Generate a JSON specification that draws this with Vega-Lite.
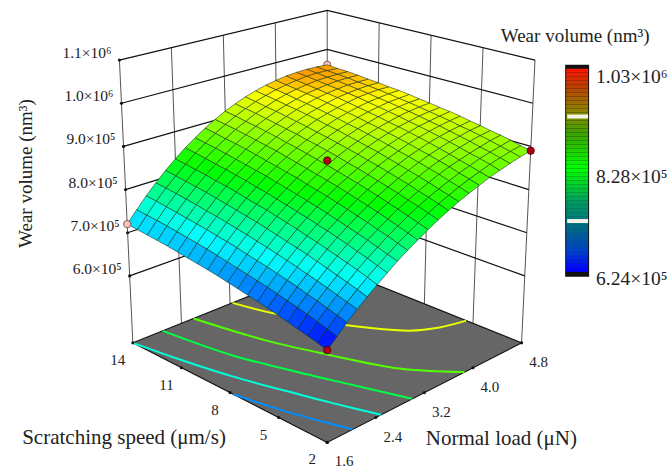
{"$schema":"https://vega.github.io/schema/vega-lite/v6.json","width":668,"height":470,"padding":0,"autosize":{"type":"fit","contains":"padding"},"background":"white","config":{"view":{"stroke":null},"text":{"font":"Liberation Serif","color":"#222222"}},
"datasets":{
"frame":[
{"g":"wallh","id":"z600","n":0,"speed":14,"load":1.6,"w":600},{"g":"wallh","id":"z600","n":1,"speed":14,"load":4.8,"w":600},{"g":"wallh","id":"z600","n":2,"speed":2,"load":4.8,"w":600},
{"g":"wallh","id":"z700","n":0,"speed":14,"load":1.6,"w":700},{"g":"wallh","id":"z700","n":1,"speed":14,"load":4.8,"w":700},{"g":"wallh","id":"z700","n":2,"speed":2,"load":4.8,"w":700},
{"g":"wallh","id":"z800","n":0,"speed":14,"load":1.6,"w":800},{"g":"wallh","id":"z800","n":1,"speed":14,"load":4.8,"w":800},{"g":"wallh","id":"z800","n":2,"speed":2,"load":4.8,"w":800},
{"g":"wallh","id":"z900","n":0,"speed":14,"load":1.6,"w":900},{"g":"wallh","id":"z900","n":1,"speed":14,"load":4.8,"w":900},{"g":"wallh","id":"z900","n":2,"speed":2,"load":4.8,"w":900},
{"g":"wallh","id":"z1000","n":0,"speed":14,"load":1.6,"w":1000},{"g":"wallh","id":"z1000","n":1,"speed":14,"load":4.8,"w":1000},{"g":"wallh","id":"z1000","n":2,"speed":2,"load":4.8,"w":1000},
{"g":"wallh","id":"z1100","n":0,"speed":14,"load":1.6,"w":1100},{"g":"wallh","id":"z1100","n":1,"speed":14,"load":4.8,"w":1100},{"g":"wallh","id":"z1100","n":2,"speed":2,"load":4.8,"w":1100},
{"g":"wallv","id":"a","n":0,"speed":14,"load":1.6,"w":445},{"g":"wallv","id":"a","n":1,"speed":14,"load":1.6,"w":1100},
{"g":"wallv","id":"b","n":0,"speed":14,"load":2.4,"w":445},{"g":"wallv","id":"b","n":1,"speed":14,"load":2.4,"w":1100},
{"g":"wallv","id":"c","n":0,"speed":14,"load":3.2,"w":445},{"g":"wallv","id":"c","n":1,"speed":14,"load":3.2,"w":1100},
{"g":"wallv","id":"d","n":0,"speed":14,"load":4.0,"w":445},{"g":"wallv","id":"d","n":1,"speed":14,"load":4.0,"w":1100},
{"g":"wallv","id":"e","n":0,"speed":14,"load":4.8,"w":445},{"g":"wallv","id":"e","n":1,"speed":14,"load":4.8,"w":1100},
{"g":"wallv","id":"f","n":0,"speed":11,"load":4.8,"w":445},{"g":"wallv","id":"f","n":1,"speed":11,"load":4.8,"w":1100},
{"g":"wallv","id":"h","n":0,"speed":8,"load":4.8,"w":445},{"g":"wallv","id":"h","n":1,"speed":8,"load":4.8,"w":1100},
{"g":"wallv","id":"k","n":0,"speed":5,"load":4.8,"w":445},{"g":"wallv","id":"k","n":1,"speed":5,"load":4.8,"w":1100},
{"g":"wallv","id":"m","n":0,"speed":2,"load":4.8,"w":445},{"g":"wallv","id":"m","n":1,"speed":2,"load":4.8,"w":1100},
{"g":"floor","id":"floor","n":0,"speed":2,"load":1.6,"w":445},{"g":"floor","id":"floor","n":1,"speed":14,"load":1.6,"w":445},{"g":"floor","id":"floor","n":2,"speed":14,"load":4.8,"w":445},{"g":"floor","id":"floor","n":3,"speed":2,"load":4.8,"w":445},
{"g":"contour","level":680,"n":0,"speed":7.8,"load":1.6,"w":445},{"g":"contour","level":680,"n":1,"speed":5.33,"load":1.75,"w":445},{"g":"contour","level":680,"n":2,"speed":2.94,"load":1.94,"w":445},{"g":"contour","level":680,"n":3,"speed":2,"load":2.02,"w":445},
{"g":"contour","level":740,"n":0,"speed":14,"load":1.6,"w":445},{"g":"contour","level":740,"n":1,"speed":11.44,"load":1.74,"w":445},{"g":"contour","level":740,"n":2,"speed":8.97,"load":1.9,"w":445},{"g":"contour","level":740,"n":3,"speed":5.82,"load":2.16,"w":445},{"g":"contour","level":740,"n":4,"speed":4.25,"load":2.29,"w":445},{"g":"contour","level":740,"n":5,"speed":2,"load":2.49,"w":445},
{"g":"contour","level":800,"n":0,"speed":14,"load":2.09,"w":445},{"g":"contour","level":800,"n":1,"speed":10.35,"load":2.27,"w":445},{"g":"contour","level":800,"n":2,"speed":7.23,"load":2.54,"w":445},{"g":"contour","level":800,"n":3,"speed":5.7,"load":2.68,"w":445},{"g":"contour","level":800,"n":4,"speed":2,"load":3.0,"w":445},
{"g":"contour","level":860,"n":0,"speed":14,"load":2.6,"w":445},{"g":"contour","level":860,"n":1,"speed":10.35,"load":2.83,"w":445},{"g":"contour","level":860,"n":2,"speed":7.58,"load":3.09,"w":445},{"g":"contour","level":860,"n":3,"speed":4.38,"load":3.42,"w":445},{"g":"contour","level":860,"n":4,"speed":2,"load":3.86,"w":445},
{"g":"contour","level":920,"n":0,"speed":14,"load":3.24,"w":445},{"g":"contour","level":920,"n":1,"speed":12,"load":3.4,"w":445},{"g":"contour","level":920,"n":2,"speed":8.96,"load":3.78,"w":445},{"g":"contour","level":920,"n":3,"speed":6.6,"load":4.18,"w":445},{"g":"contour","level":920,"n":4,"speed":5.83,"load":4.47,"w":445},{"g":"contour","level":920,"n":5,"speed":5.42,"load":4.8,"w":445},
{"g":"pinktop","speed":14,"load":1.6,"w":720},{"g":"pink","speed":14,"load":4.8,"w":960},
{"g":"red","speed":2,"load":1.6,"w":646},{"g":"red","speed":8,"load":3.2,"w":884},{"g":"red","speed":2,"load":4.8,"w":890},
{"g":"zlab","speed":14,"load":1.6,"w":600,"txt":"6.0×10⁵"},{"g":"zlab","speed":14,"load":1.6,"w":700,"txt":"7.0×10⁵"},{"g":"zlab","speed":14,"load":1.6,"w":800,"txt":"8.0×10⁵"},{"g":"zlab","speed":14,"load":1.6,"w":900,"txt":"9.0×10⁵"},{"g":"zlab","speed":14,"load":1.6,"w":1000,"txt":"1.0×10⁶"},{"g":"zlab","speed":14,"load":1.6,"w":1100,"txt":"1.1×10⁶"},
{"g":"slab","speed":14,"load":1.6,"w":445,"txt":"14"},{"g":"slab","speed":11,"load":1.6,"w":445,"txt":"11"},{"g":"slab","speed":8,"load":1.6,"w":445,"txt":"8"},{"g":"slab","speed":5,"load":1.6,"w":445,"txt":"5"},{"g":"slab","speed":2,"load":1.6,"w":445,"txt":"2"},
{"g":"llab","speed":2,"load":1.6,"w":445,"txt":"1.6"},{"g":"llab","speed":2,"load":2.4,"w":445,"txt":"2.4"},{"g":"llab","speed":2,"load":3.2,"w":445,"txt":"3.2"},{"g":"llab","speed":2,"load":4.0,"w":445,"txt":"4.0"},{"g":"llab","speed":2,"load":4.8,"w":445,"txt":"4.8"},
{"g":"stitle","speed":8,"load":1.6,"w":445,"txt":"Scratching speed (μm/s)"},{"g":"ltitle","speed":2,"load":3.2,"w":445,"txt":"Normal load (μN)"},{"g":"ztitle","speed":14,"load":1.6,"w":800,"txt":"Wear volume (nm³)"}
],
"surface":[
{"i":0,"j":0,"w":646},{"i":1,"j":0,"w":652},{"i":2,"j":0,"w":657},{"i":3,"j":0,"w":662},{"i":4,"j":0,"w":667},{"i":5,"j":0,"w":672},{"i":6,"j":0,"w":677},{"i":7,"j":0,"w":681},{"i":8,"j":0,"w":685},{"i":9,"j":0,"w":689},{"i":10,"j":0,"w":693},{"i":11,"j":0,"w":697},{"i":12,"j":0,"w":700},{"i":13,"j":0,"w":703},{"i":14,"j":0,"w":706},{"i":15,"j":0,"w":709},{"i":16,"j":0,"w":712},{"i":17,"j":0,"w":714},{"i":18,"j":0,"w":716},{"i":19,"j":0,"w":718},{"i":20,"j":0,"w":720},
{"i":0,"j":1,"w":666},{"i":1,"j":1,"w":672},{"i":2,"j":1,"w":678},{"i":3,"j":1,"w":684},{"i":4,"j":1,"w":689},{"i":5,"j":1,"w":694},{"i":6,"j":1,"w":699},{"i":7,"j":1,"w":704},{"i":8,"j":1,"w":708},{"i":9,"j":1,"w":712},{"i":10,"j":1,"w":716},{"i":11,"j":1,"w":720},{"i":12,"j":1,"w":724},{"i":13,"j":1,"w":728},{"i":14,"j":1,"w":731},{"i":15,"j":1,"w":734},{"i":16,"j":1,"w":737},{"i":17,"j":1,"w":740},{"i":18,"j":1,"w":742},{"i":19,"j":1,"w":744},{"i":20,"j":1,"w":746},
{"i":0,"j":2,"w":686},{"i":1,"j":2,"w":692},{"i":2,"j":2,"w":698},{"i":3,"j":2,"w":704},{"i":4,"j":2,"w":709},{"i":5,"j":2,"w":715},{"i":6,"j":2,"w":720},{"i":7,"j":2,"w":725},{"i":8,"j":2,"w":730},{"i":9,"j":2,"w":734},{"i":10,"j":2,"w":738},{"i":11,"j":2,"w":743},{"i":12,"j":2,"w":747},{"i":13,"j":2,"w":750},{"i":14,"j":2,"w":754},{"i":15,"j":2,"w":757},{"i":16,"j":2,"w":760},{"i":17,"j":2,"w":763},{"i":18,"j":2,"w":766},{"i":19,"j":2,"w":769},{"i":20,"j":2,"w":771},
{"i":0,"j":3,"w":705},{"i":1,"j":3,"w":711},{"i":2,"j":3,"w":717},{"i":3,"j":3,"w":723},{"i":4,"j":3,"w":729},{"i":5,"j":3,"w":734},{"i":6,"j":3,"w":740},{"i":7,"j":3,"w":745},{"i":8,"j":3,"w":750},{"i":9,"j":3,"w":755},{"i":10,"j":3,"w":759},{"i":11,"j":3,"w":764},{"i":12,"j":3,"w":768},{"i":13,"j":3,"w":772},{"i":14,"j":3,"w":776},{"i":15,"j":3,"w":779},{"i":16,"j":3,"w":783},{"i":17,"j":3,"w":786},{"i":18,"j":3,"w":789},{"i":19,"j":3,"w":792},{"i":20,"j":3,"w":794},
{"i":0,"j":4,"w":722},{"i":1,"j":4,"w":729},{"i":2,"j":4,"w":735},{"i":3,"j":4,"w":741},{"i":4,"j":4,"w":747},{"i":5,"j":4,"w":753},{"i":6,"j":4,"w":759},{"i":7,"j":4,"w":764},{"i":8,"j":4,"w":769},{"i":9,"j":4,"w":774},{"i":10,"j":4,"w":779},{"i":11,"j":4,"w":784},{"i":12,"j":4,"w":788},{"i":13,"j":4,"w":792},{"i":14,"j":4,"w":796},{"i":15,"j":4,"w":800},{"i":16,"j":4,"w":804},{"i":17,"j":4,"w":807},{"i":18,"j":4,"w":810},{"i":19,"j":4,"w":813},{"i":20,"j":4,"w":816},
{"i":0,"j":5,"w":739},{"i":1,"j":5,"w":746},{"i":2,"j":5,"w":753},{"i":3,"j":5,"w":759},{"i":4,"j":5,"w":765},{"i":5,"j":5,"w":771},{"i":6,"j":5,"w":777},{"i":7,"j":5,"w":782},{"i":8,"j":5,"w":788},{"i":9,"j":5,"w":793},{"i":10,"j":5,"w":798},{"i":11,"j":5,"w":803},{"i":12,"j":5,"w":807},{"i":13,"j":5,"w":811},{"i":14,"j":5,"w":816},{"i":15,"j":5,"w":820},{"i":16,"j":5,"w":823},{"i":17,"j":5,"w":827},{"i":18,"j":5,"w":830},{"i":19,"j":5,"w":833},{"i":20,"j":5,"w":836},
{"i":0,"j":6,"w":755},{"i":1,"j":6,"w":762},{"i":2,"j":6,"w":769},{"i":3,"j":6,"w":775},{"i":4,"j":6,"w":782},{"i":5,"j":6,"w":788},{"i":6,"j":6,"w":794},{"i":7,"j":6,"w":799},{"i":8,"j":6,"w":805},{"i":9,"j":6,"w":810},{"i":10,"j":6,"w":815},{"i":11,"j":6,"w":820},{"i":12,"j":6,"w":825},{"i":13,"j":6,"w":829},{"i":14,"j":6,"w":834},{"i":15,"j":6,"w":838},{"i":16,"j":6,"w":842},{"i":17,"j":6,"w":845},{"i":18,"j":6,"w":849},{"i":19,"j":6,"w":852},{"i":20,"j":6,"w":855},
{"i":0,"j":7,"w":771},{"i":1,"j":7,"w":777},{"i":2,"j":7,"w":784},{"i":3,"j":7,"w":791},{"i":4,"j":7,"w":797},{"i":5,"j":7,"w":803},{"i":6,"j":7,"w":809},{"i":7,"j":7,"w":815},{"i":8,"j":7,"w":821},{"i":9,"j":7,"w":826},{"i":10,"j":7,"w":831},{"i":11,"j":7,"w":836},{"i":12,"j":7,"w":841},{"i":13,"j":7,"w":846},{"i":14,"j":7,"w":850},{"i":15,"j":7,"w":854},{"i":16,"j":7,"w":858},{"i":17,"j":7,"w":862},{"i":18,"j":7,"w":866},{"i":19,"j":7,"w":869},{"i":20,"j":7,"w":872},
{"i":0,"j":8,"w":785},{"i":1,"j":8,"w":792},{"i":2,"j":8,"w":799},{"i":3,"j":8,"w":805},{"i":4,"j":8,"w":812},{"i":5,"j":8,"w":818},{"i":6,"j":8,"w":824},{"i":7,"j":8,"w":830},{"i":8,"j":8,"w":836},{"i":9,"j":8,"w":841},{"i":10,"j":8,"w":846},{"i":11,"j":8,"w":852},{"i":12,"j":8,"w":856},{"i":13,"j":8,"w":861},{"i":14,"j":8,"w":865},{"i":15,"j":8,"w":870},{"i":16,"j":8,"w":874},{"i":17,"j":8,"w":878},{"i":18,"j":8,"w":881},{"i":19,"j":8,"w":885},{"i":20,"j":8,"w":888},
{"i":0,"j":9,"w":798},{"i":1,"j":9,"w":805},{"i":2,"j":9,"w":812},{"i":3,"j":9,"w":819},{"i":4,"j":9,"w":826},{"i":5,"j":9,"w":832},{"i":6,"j":9,"w":838},{"i":7,"j":9,"w":844},{"i":8,"j":9,"w":850},{"i":9,"j":9,"w":855},{"i":10,"j":9,"w":860},{"i":11,"j":9,"w":865},{"i":12,"j":9,"w":870},{"i":13,"j":9,"w":875},{"i":14,"j":9,"w":880},{"i":15,"j":9,"w":884},{"i":16,"j":9,"w":888},{"i":17,"j":9,"w":892},{"i":18,"j":9,"w":896},{"i":19,"j":9,"w":899},{"i":20,"j":9,"w":902},
{"i":0,"j":10,"w":811},{"i":1,"j":10,"w":818},{"i":2,"j":10,"w":825},{"i":3,"j":10,"w":832},{"i":4,"j":10,"w":838},{"i":5,"j":10,"w":845},{"i":6,"j":10,"w":851},{"i":7,"j":10,"w":857},{"i":8,"j":10,"w":862},{"i":9,"j":10,"w":868},{"i":10,"j":10,"w":873},{"i":11,"j":10,"w":878},{"i":12,"j":10,"w":883},{"i":13,"j":10,"w":888},{"i":14,"j":10,"w":892},{"i":15,"j":10,"w":897},{"i":16,"j":10,"w":901},{"i":17,"j":10,"w":905},{"i":18,"j":10,"w":908},{"i":19,"j":10,"w":912},{"i":20,"j":10,"w":915},
{"i":0,"j":11,"w":823},{"i":1,"j":11,"w":830},{"i":2,"j":11,"w":837},{"i":3,"j":11,"w":843},{"i":4,"j":11,"w":850},{"i":5,"j":11,"w":856},{"i":6,"j":11,"w":862},{"i":7,"j":11,"w":868},{"i":8,"j":11,"w":874},{"i":9,"j":11,"w":879},{"i":10,"j":11,"w":885},{"i":11,"j":11,"w":890},{"i":12,"j":11,"w":895},{"i":13,"j":11,"w":899},{"i":14,"j":11,"w":904},{"i":15,"j":11,"w":908},{"i":16,"j":11,"w":912},{"i":17,"j":11,"w":916},{"i":18,"j":11,"w":920},{"i":19,"j":11,"w":923},{"i":20,"j":11,"w":926},
{"i":0,"j":12,"w":834},{"i":1,"j":12,"w":841},{"i":2,"j":12,"w":848},{"i":3,"j":12,"w":854},{"i":4,"j":12,"w":861},{"i":5,"j":12,"w":867},{"i":6,"j":12,"w":873},{"i":7,"j":12,"w":879},{"i":8,"j":12,"w":884},{"i":9,"j":12,"w":890},{"i":10,"j":12,"w":895},{"i":11,"j":12,"w":900},{"i":12,"j":12,"w":905},{"i":13,"j":12,"w":909},{"i":14,"j":12,"w":914},{"i":15,"j":12,"w":918},{"i":16,"j":12,"w":922},{"i":17,"j":12,"w":926},{"i":18,"j":12,"w":929},{"i":19,"j":12,"w":933},{"i":20,"j":12,"w":936},
{"i":0,"j":13,"w":844},{"i":1,"j":13,"w":851},{"i":2,"j":13,"w":857},{"i":3,"j":13,"w":864},{"i":4,"j":13,"w":870},{"i":5,"j":13,"w":876},{"i":6,"j":13,"w":882},{"i":7,"j":13,"w":888},{"i":8,"j":13,"w":894},{"i":9,"j":13,"w":899},{"i":10,"j":13,"w":904},{"i":11,"j":13,"w":909},{"i":12,"j":13,"w":914},{"i":13,"j":13,"w":918},{"i":14,"j":13,"w":923},{"i":15,"j":13,"w":927},{"i":16,"j":13,"w":931},{"i":17,"j":13,"w":934},{"i":18,"j":13,"w":938},{"i":19,"j":13,"w":941},{"i":20,"j":13,"w":944},
{"i":0,"j":14,"w":853},{"i":1,"j":14,"w":860},{"i":2,"j":14,"w":866},{"i":3,"j":14,"w":873},{"i":4,"j":14,"w":879},{"i":5,"j":14,"w":885},{"i":6,"j":14,"w":891},{"i":7,"j":14,"w":896},{"i":8,"j":14,"w":902},{"i":9,"j":14,"w":907},{"i":10,"j":14,"w":912},{"i":11,"j":14,"w":917},{"i":12,"j":14,"w":921},{"i":13,"j":14,"w":926},{"i":14,"j":14,"w":930},{"i":15,"j":14,"w":934},{"i":16,"j":14,"w":938},{"i":17,"j":14,"w":941},{"i":18,"j":14,"w":945},{"i":19,"j":14,"w":948},{"i":20,"j":14,"w":951},
{"i":0,"j":15,"w":861},{"i":1,"j":15,"w":868},{"i":2,"j":15,"w":874},{"i":3,"j":15,"w":881},{"i":4,"j":15,"w":887},{"i":5,"j":15,"w":893},{"i":6,"j":15,"w":898},{"i":7,"j":15,"w":904},{"i":8,"j":15,"w":909},{"i":9,"j":15,"w":914},{"i":10,"j":15,"w":919},{"i":11,"j":15,"w":923},{"i":12,"j":15,"w":928},{"i":13,"j":15,"w":932},{"i":14,"j":15,"w":936},{"i":15,"j":15,"w":940},{"i":16,"j":15,"w":944},{"i":17,"j":15,"w":947},{"i":18,"j":15,"w":950},{"i":19,"j":15,"w":953},{"i":20,"j":15,"w":956},
{"i":0,"j":16,"w":869},{"i":1,"j":16,"w":875},{"i":2,"j":16,"w":881},{"i":3,"j":16,"w":887},{"i":4,"j":16,"w":893},{"i":5,"j":16,"w":899},{"i":6,"j":16,"w":905},{"i":7,"j":16,"w":910},{"i":8,"j":16,"w":915},{"i":9,"j":16,"w":920},{"i":10,"j":16,"w":924},{"i":11,"j":16,"w":929},{"i":12,"j":16,"w":933},{"i":13,"j":16,"w":937},{"i":14,"j":16,"w":941},{"i":15,"j":16,"w":945},{"i":16,"j":16,"w":948},{"i":17,"j":16,"w":951},{"i":18,"j":16,"w":954},{"i":19,"j":16,"w":957},{"i":20,"j":16,"w":960},
{"i":0,"j":17,"w":875},{"i":1,"j":17,"w":882},{"i":2,"j":17,"w":888},{"i":3,"j":17,"w":893},{"i":4,"j":17,"w":899},{"i":5,"j":17,"w":905},{"i":6,"j":17,"w":910},{"i":7,"j":17,"w":915},{"i":8,"j":17,"w":920},{"i":9,"j":17,"w":924},{"i":10,"j":17,"w":929},{"i":11,"j":17,"w":933},{"i":12,"j":17,"w":937},{"i":13,"j":17,"w":941},{"i":14,"j":17,"w":945},{"i":15,"j":17,"w":948},{"i":16,"j":17,"w":951},{"i":17,"j":17,"w":954},{"i":18,"j":17,"w":957},{"i":19,"j":17,"w":960},{"i":20,"j":17,"w":962},
{"i":0,"j":18,"w":881},{"i":1,"j":18,"w":887},{"i":2,"j":18,"w":893},{"i":3,"j":18,"w":898},{"i":4,"j":18,"w":904},{"i":5,"j":18,"w":909},{"i":6,"j":18,"w":914},{"i":7,"j":18,"w":919},{"i":8,"j":18,"w":923},{"i":9,"j":18,"w":928},{"i":10,"j":18,"w":932},{"i":11,"j":18,"w":936},{"i":12,"j":18,"w":940},{"i":13,"j":18,"w":943},{"i":14,"j":18,"w":947},{"i":15,"j":18,"w":950},{"i":16,"j":18,"w":953},{"i":17,"j":18,"w":956},{"i":18,"j":18,"w":958},{"i":19,"j":18,"w":961},{"i":20,"j":18,"w":963},
{"i":0,"j":19,"w":886},{"i":1,"j":19,"w":892},{"i":2,"j":19,"w":897},{"i":3,"j":19,"w":903},{"i":4,"j":19,"w":908},{"i":5,"j":19,"w":913},{"i":6,"j":19,"w":917},{"i":7,"j":19,"w":922},{"i":8,"j":19,"w":926},{"i":9,"j":19,"w":930},{"i":10,"j":19,"w":934},{"i":11,"j":19,"w":938},{"i":12,"j":19,"w":941},{"i":13,"j":19,"w":945},{"i":14,"j":19,"w":948},{"i":15,"j":19,"w":951},{"i":16,"j":19,"w":953},{"i":17,"j":19,"w":956},{"i":18,"j":19,"w":958},{"i":19,"j":19,"w":960},{"i":20,"j":19,"w":962},
{"i":0,"j":20,"w":890},{"i":1,"j":20,"w":895},{"i":2,"j":20,"w":901},{"i":3,"j":20,"w":906},{"i":4,"j":20,"w":910},{"i":5,"j":20,"w":915},{"i":6,"j":20,"w":919},{"i":7,"j":20,"w":924},{"i":8,"j":20,"w":928},{"i":9,"j":20,"w":931},{"i":10,"j":20,"w":935},{"i":11,"j":20,"w":938},{"i":12,"j":20,"w":942},{"i":13,"j":20,"w":945},{"i":14,"j":20,"w":947},{"i":15,"j":20,"w":950},{"i":16,"j":20,"w":952},{"i":17,"j":20,"w":955},{"i":18,"j":20,"w":957},{"i":19,"j":20,"w":958},{"i":20,"j":20,"w":960}
],
"bar":[{"w":624},{"w":632},{"w":640},{"w":648},{"w":656},{"w":664},{"w":672},{"w":680},{"w":688},{"w":696},{"w":704},{"w":712},{"w":720},{"w":728},{"w":736},{"w":744},{"w":752},{"w":760},{"w":768},{"w":776},{"w":784},{"w":792},{"w":800},{"w":808},{"w":816},{"w":824},{"w":832},{"w":840},{"w":848},{"w":856},{"w":864},{"w":872},{"w":880},{"w":888},{"w":896},{"w":904},{"w":912},{"w":920},{"w":928},{"w":936},{"w":944},{"w":952},{"w":960},{"w":968},{"w":976},{"w":984},{"w":992},{"w":1000},{"w":1008},{"w":1016},{"w":1024}],
"barmarks":[{"k":"frame","w":614,"w2":1040},{"k":"band","w":722,"w2":730},{"k":"band","w":932,"w2":940}],
"barlabels":[{"w":1030,"txt":"1.03×10⁶"},{"w":828,"txt":"8.28×10⁵"},{"w":624,"txt":"6.24×10⁵"}]
},
"encoding":{"x":{"field":"px","type":"quantitative","axis":null,"scale":{"domain":[0,668],"nice":false,"zero":false}},"y":{"field":"py","type":"quantitative","axis":null,"scale":{"domain":[470,0],"nice":false,"zero":false}}},
"layer":[
{"data":{"name":"frame"},"transform":[{"calculate":"(datum.speed-2)/12","as":"u"},{"calculate":"(datum.load-1.6)/3.2","as":"v"},{"calculate":"(datum.w-445)/655","as":"t"},{"calculate":"327.7+(datum.v-datum.u)*(194.65+13.45*datum.t)","as":"px"},{"calculate":"444.3-100*(datum.u+datum.v)+21.7*datum.u*datum.v-datum.t*(302-18*(datum.u+datum.v)-10.5*datum.u*datum.v)","as":"py"}],
"layer":[
{"transform":[{"filter":"datum.g=='wallv'"}],"mark":{"type":"line","stroke":"#555555","strokeWidth":1},"encoding":{"detail":{"field":"id"},"order":{"field":"n","type":"quantitative"}}},
{"transform":[{"filter":"datum.g=='wallh'"}],"mark":{"type":"line","stroke":"#111111","strokeWidth":1.2},"encoding":{"detail":{"field":"id"},"order":{"field":"n","type":"quantitative"}}},
{"transform":[{"filter":"datum.g=='floor'"}],"mark":{"type":"line","interpolate":"linear-closed","fill":"#666666","stroke":"#111111","strokeWidth":1.1},"encoding":{"detail":{"field":"id"},"order":{"field":"n","type":"quantitative"}}},
{"transform":[{"filter":"datum.g=='contour'"}],"mark":{"type":"line","strokeWidth":2,"interpolate":"catmull-rom"},"encoding":{"detail":{"field":"level"},"order":{"field":"n","type":"quantitative"},"stroke":{"field":"level","type":"quantitative","legend":null,"scale":{"interpolate":"rgb","domain":[624,725.5,827,928.5,1030],"range":["#0000ff","#00ffff","#00ff00","#ffff00","#ff0000"]}}}},
{"transform":[{"filter":"datum.g=='pink'"}],"mark":{"type":"point","filled":true,"opacity":1,"size":55,"fill":"#f6c0c0","stroke":"#553333","strokeWidth":0.7}}
]},
{"data":{"name":"surface"},"transform":[{"calculate":"[0,1,2,3]","as":"corner"},{"flatten":["corner"]},{"calculate":"datum.corner==0||datum.corner==3?datum.i:datum.i-1","as":"ci"},{"calculate":"datum.corner<2?datum.j:datum.j-1","as":"cj"},{"filter":"datum.ci>=0&&datum.ci<20&&datum.cj>=0&&datum.cj<20"},{"calculate":"datum.ci*100+datum.cj","as":"cell"},{"joinaggregate":[{"op":"mean","field":"w","as":"wm"}],"groupby":["cell"]},{"calculate":"datum.i/20","as":"u"},{"calculate":"datum.j/20","as":"v"},{"calculate":"(datum.w-445)/655","as":"t"},{"calculate":"327.7+(datum.v-datum.u)*(194.65+13.45*datum.t)","as":"px"},{"calculate":"444.3-100*(datum.u+datum.v)+21.7*datum.u*datum.v-datum.t*(302-18*(datum.u+datum.v)-10.5*datum.u*datum.v)","as":"py"}],
"mark":{"type":"line","interpolate":"linear-closed","stroke":"#103010","strokeWidth":0.55},
"encoding":{"detail":{"field":"cell"},"order":{"field":"corner","type":"quantitative"},"fill":{"field":"wm","type":"quantitative","legend":null,"scale":{"interpolate":"rgb","domain":[650,742,835,943,990],"range":["#0000ff","#00ffff","#00ff00","#ffff00","#ff0000"]}}}},
{"data":{"name":"frame"},"transform":[{"calculate":"(datum.speed-2)/12","as":"u"},{"calculate":"(datum.load-1.6)/3.2","as":"v"},{"calculate":"(datum.w-445)/655","as":"t"},{"calculate":"327.7+(datum.v-datum.u)*(194.65+13.45*datum.t)","as":"px"},{"calculate":"444.3-100*(datum.u+datum.v)+21.7*datum.u*datum.v-datum.t*(302-18*(datum.u+datum.v)-10.5*datum.u*datum.v)","as":"py"}],
"layer":[
{"transform":[{"filter":"datum.g=='pinktop'"}],"mark":{"type":"point","filled":true,"opacity":1,"size":55,"fill":"#f6c0c0","stroke":"#553333","strokeWidth":0.7}},
{"transform":[{"filter":"datum.g=='red'"}],"mark":{"type":"point","filled":true,"opacity":1,"size":55,"fill":"#b00012","stroke":"#330000","strokeWidth":0.7}},
{"transform":[{"filter":"datum.g=='zlab'||datum.g=='slab'||datum.g=='llab'"}],"mark":{"type":"point","filled":true,"opacity":1,"size":10,"fill":"#111111","stroke":null}},
{"transform":[{"filter":"datum.g=='zlab'"}],"mark":{"type":"text","align":"right","baseline":"middle","fontSize":15.5,"dx":-8,"dy":-7},"encoding":{"text":{"field":"txt"}}},
{"transform":[{"filter":"datum.g=='slab'"}],"mark":{"type":"text","align":"center","baseline":"middle","fontSize":15,"dx":-15,"dy":17},"encoding":{"text":{"field":"txt"}}},
{"transform":[{"filter":"datum.g=='llab'"}],"mark":{"type":"text","align":"center","baseline":"middle","fontSize":15,"dx":17,"dy":19},"encoding":{"text":{"field":"txt"}}},
{"transform":[{"filter":"datum.g=='stitle'"}],"mark":{"type":"text","align":"center","baseline":"middle","fontSize":21,"dx":-106,"dy":45},"encoding":{"text":{"field":"txt"}}},
{"transform":[{"filter":"datum.g=='ltitle'"}],"mark":{"type":"text","align":"center","baseline":"middle","fontSize":21,"dx":77,"dy":46},"encoding":{"text":{"field":"txt"}}},
{"transform":[{"filter":"datum.g=='ztitle'"}],"mark":{"type":"text","align":"center","baseline":"middle","fontSize":19,"angle":270,"dx":16,"dy":-100},"encoding":{"text":{"field":"txt"}}}
]},
{"data":{"name":"barmarks"},"transform":[{"filter":"datum.k=='frame'"},{"calculate":"273-(datum.w-624)*0.5","as":"py"},{"calculate":"273-(datum.w2-624)*0.5","as":"py2"},{"calculate":"566","as":"px"},{"calculate":"590","as":"px2"}],"mark":{"type":"rect","fill":"#111111"},"encoding":{"x2":{"field":"px2"},"y2":{"field":"py2"}}},
{"data":{"name":"bar"},"transform":[{"calculate":"273-(datum.w-624)*0.5","as":"py"},{"calculate":"273-(datum.w+8-624)*0.5","as":"py2"},{"calculate":"567","as":"px"},{"calculate":"589","as":"px2"}],"mark":{"type":"rect"},"encoding":{"x2":{"field":"px2"},"y2":{"field":"py2"},"fill":{"field":"w","type":"quantitative","legend":null,"scale":{"interpolate":"rgb","domain":[624,660,700,760,828,900,940,990,1030],"range":["#0000ff","#0040c8","#00608c","#009a60","#00ff00","#3fa000","#8a8800","#b84400","#ff1000"]}}}},
{"data":{"name":"barmarks"},"transform":[{"filter":"datum.k=='band'"},{"calculate":"273-(datum.w-624)*0.5","as":"py"},{"calculate":"273-(datum.w2-624)*0.5","as":"py2"},{"calculate":"568","as":"px"},{"calculate":"589","as":"px2"}],"mark":{"type":"rect","fill":"#f4f4e8"},"encoding":{"x2":{"field":"px2"},"y2":{"field":"py2"}}},
{"data":{"name":"barlabels"},"transform":[{"calculate":"273-(datum.w-624)*0.5","as":"py"},{"calculate":"597","as":"px"}],"mark":{"type":"text","align":"left","baseline":"middle","fontSize":19.5,"dy":7},"encoding":{"text":{"field":"txt"}}},
{"data":{"values":[{"w":1098,"txt":"Wear volume (nm³)"}]},"transform":[{"calculate":"273-(datum.w-624)*0.5","as":"py"},{"calculate":"576","as":"px"}],"mark":{"type":"text","align":"center","baseline":"middle","fontSize":19},"encoding":{"text":{"field":"txt"}}}
],
"resolve":{"scale":{"fill":"independent","stroke":"independent"}}
}
